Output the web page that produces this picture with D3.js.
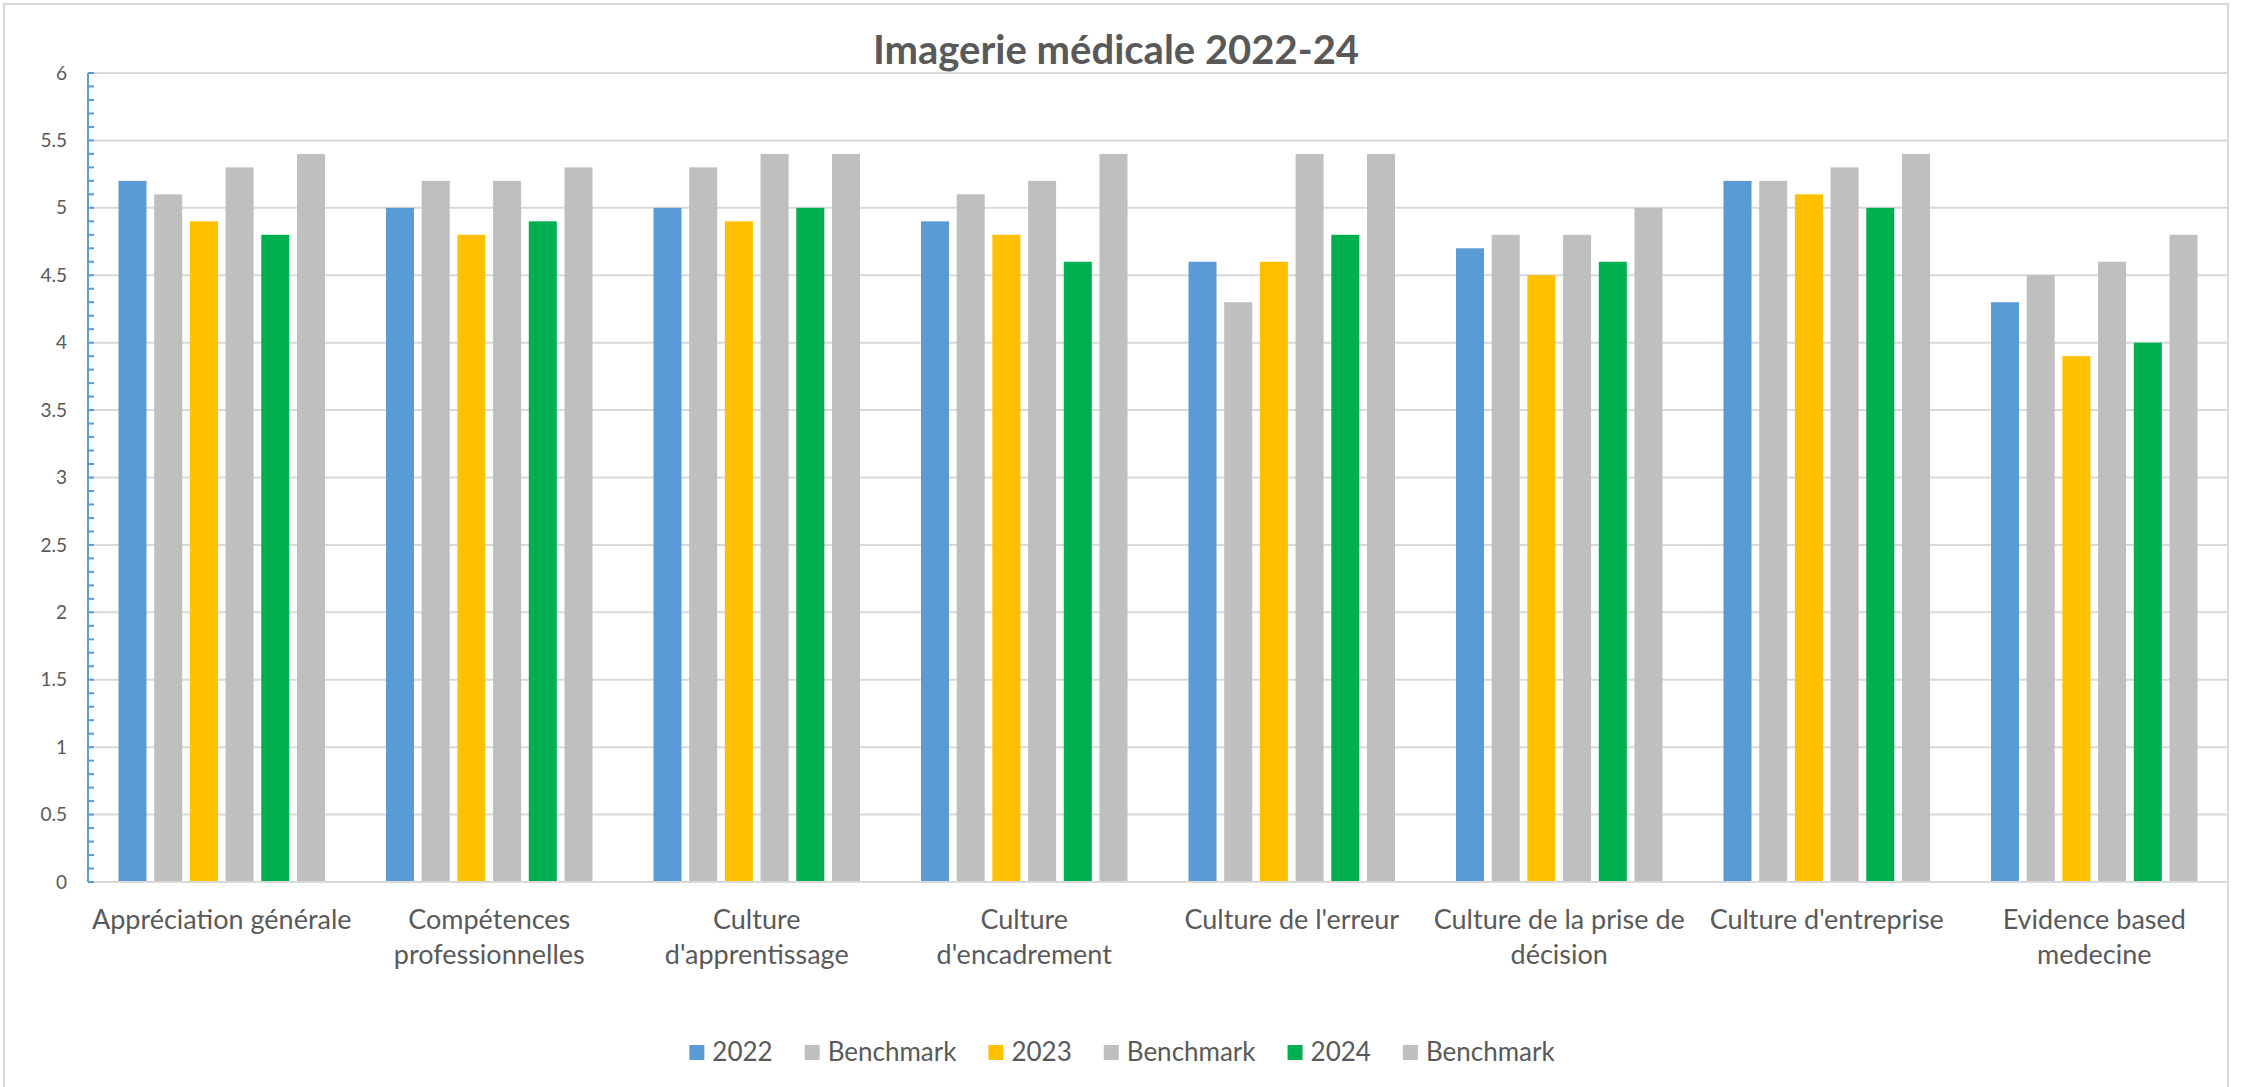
<!DOCTYPE html>
<html>
<head>
<meta charset="utf-8">
<script src="https://cdn.jsdelivr.net/npm/d3@7"></script>
<style>
  html, body { margin: 0; padding: 0; background: #ffffff; }
  svg { display: block; }
  text { font-family: Lato, "Open Sans", sans-serif; fill: #595959; }
</style>
</head>
<body>
<svg id="chart" width="2241" height="1087"></svg>
<script>
const title = "Imagerie médicale 2022-24";
const categories = [
  "Appréciation générale",
  "Compétences\nprofessionnelles",
  "Culture\nd'apprentissage",
  "Culture\nd'encadrement",
  "Culture de l'erreur",
  "Culture de la prise de\ndécision",
  "Culture d'entreprise",
  "Evidence based\nmedecine"
];
const seriesNames = ["2022", "Benchmark", "2023", "Benchmark", "2024", "Benchmark"];
const values2022 = [5.2, 5.0, 5.0, 4.9, 4.6, 4.7, 5.2, 4.3];
const bench2022  = [5.1, 5.2, 5.3, 5.1, 4.3, 4.8, 5.2, 4.5];
const values2023 = [4.9, 4.8, 4.9, 4.8, 4.6, 4.5, 5.1, 3.9];
const bench2023  = [5.3, 5.2, 5.4, 5.2, 5.4, 4.8, 5.3, 4.6];
const values2024 = [4.8, 4.9, 5.0, 4.6, 4.8, 4.6, 5.0, 4.0];
const bench2024  = [5.4, 5.3, 5.4, 5.4, 5.4, 5.0, 5.4, 4.8];
const yTickValues = [0, 0.5, 1, 1.5, 2, 2.5, 3, 3.5, 4, 4.5, 5, 5.5, 6];
const yTickLabels = ["0", "0.5", "1", "1.5", "2", "2.5", "3", "3.5", "4", "4.5", "5", "5.5", "6"];

const seriesValues = [values2022, bench2022, values2023, bench2023, values2024, bench2024];
const seriesColors = ["#5b9bd5", "#bfbfbf", "#ffc000", "#bfbfbf", "#00b050", "#bfbfbf"];

const svg = d3.select("#chart");
const plot = { left: 88, right: 2228, top: 73, bottom: 882 };

// chart frame
svg.append("rect")
  .attr("x", 4).attr("y", 4)
  .attr("width", 2224).attr("height", 1100)
  .attr("fill", "#ffffff")
  .attr("stroke", "#d9d9d9").attr("stroke-width", 2);

const x0 = d3.scaleBand().domain(d3.range(categories.length))
  .range([plot.left, plot.right]).paddingInner(0).paddingOuter(0);
const bw = x0.bandwidth();
const pad = bw * 0.114;
const x1 = d3.scaleBand().domain(d3.range(seriesNames.length))
  .range([pad, bw - pad]).paddingInner(0.215).paddingOuter(0);
const y = d3.scaleLinear().domain([0, 6]).range([plot.bottom, plot.top]);

// gridlines
svg.append("g").selectAll("line").data(yTickValues.filter(v => v > 0)).join("line")
  .attr("x1", plot.left).attr("x2", plot.right)
  .attr("y1", d => y(d)).attr("y2", d => y(d))
  .attr("stroke", "#d9d9d9").attr("stroke-width", 2);

// bars
const groups = svg.append("g").selectAll("g").data(categories).join("g")
  .attr("transform", (d, i) => `translate(${x0(i)},0)`);
groups.each(function(cat, ci) {
  d3.select(this).selectAll("rect")
    .data(seriesValues.map((arr, si) => ({ si, v: arr[ci] })))
    .join("rect")
    .attr("x", d => x1(d.si))
    .attr("width", x1.bandwidth())
    .attr("y", d => y(d.v))
    .attr("height", d => y(0) - y(d.v))
    .attr("fill", d => seriesColors[d.si]);
});

// x axis baseline
svg.append("line")
  .attr("x1", plot.left).attr("x2", plot.right)
  .attr("y1", y(0)).attr("y2", y(0))
  .attr("stroke", "#d9d9d9").attr("stroke-width", 2);

// y axis (blue) with minor ticks inside
const minorTicks = d3.range(0, 61).map(i => i / 10);
const yAxisG = svg.append("g").attr("transform", `translate(${plot.left},0)`);
yAxisG.append("line")
  .attr("x1", 0).attr("x2", 0).attr("y1", y(6)).attr("y2", y(0))
  .attr("stroke", "#5b9bd5").attr("stroke-width", 2);
yAxisG.selectAll("line.tick").data(minorTicks).join("line")
  .attr("class", "tick")
  .attr("x1", 0).attr("x2", 6)
  .attr("y1", d => y(d)).attr("y2", d => y(d))
  .attr("stroke", "#5b9bd5").attr("stroke-width", 2);

// y tick labels
svg.append("g").selectAll("text").data(yTickValues).join("text")
  .attr("x", 67)
  .attr("y", d => y(d))
  .attr("dy", "0.35em")
  .attr("text-anchor", "end")
  .style("font-size", "19px")
  .text((d, i) => yTickLabels[i]);

// category labels
svg.append("g").selectAll("text").data(categories).join("text")
  .attr("text-anchor", "middle")
  .style("font-size", "27px")
  .each(function(d, i) {
    const lines = d.split("\n");
    d3.select(this).selectAll("tspan").data(lines).join("tspan")
      .attr("x", x0(i) + bw / 2)
      .attr("y", (l, li) => 929 + li * 35)
      .text(l => l);
  });

// title
svg.append("text")
  .attr("x", 1116).attr("y", 64)
  .attr("text-anchor", "middle")
  .style("font-size", "40px").style("font-weight", "bold")
  .text(title);

// legend
const legend = svg.append("g");
const items = legend.selectAll("g").data(seriesNames).join("g");
items.append("rect")
  .attr("width", 15).attr("height", 15)
  .attr("y", 1045)
  .attr("fill", (d, i) => seriesColors[i]);
items.append("text")
  .attr("y", 1052).attr("dy", "0.35em")
  .style("font-size", "26px")
  .text(d => d);
let cursor = 0;
const positions = [];
items.each(function() {
  const w = d3.select(this).select("text").node().getComputedTextLength();
  positions.push(cursor);
  cursor += 15 + 8 + w + 32;
});
const totalW = cursor - 32;
const startX = 1122 - totalW / 2;
items.each(function(d, i) {
  const g = d3.select(this);
  g.select("rect").attr("x", startX + positions[i]);
  g.select("text").attr("x", startX + positions[i] + 23);
});
</script>
</body>
</html>
